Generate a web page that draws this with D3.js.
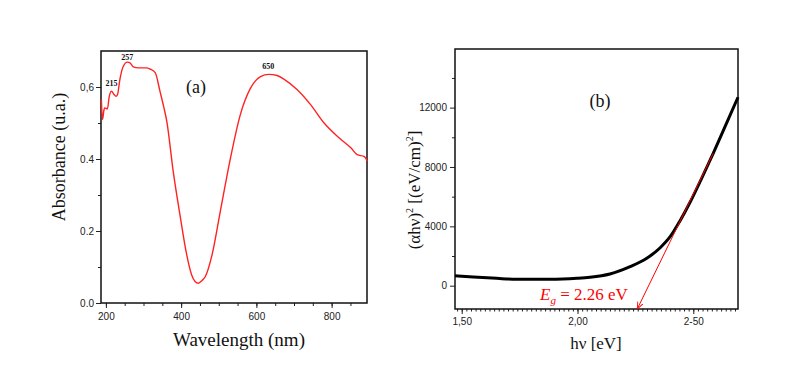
<!DOCTYPE html>
<html>
<head>
<meta charset="utf-8">
<script src="https://cdn.jsdelivr.net/npm/d3@7"></script>
<style>
  body { margin: 0; background: #fff; }
  .tick text { font-family: "Liberation Sans", Arial, sans-serif; font-size: 10px; fill: #222; }
  .tick line { stroke: #222; }
</style>
</head>
<body>
<div id="chart"></div>
<script>
// panel (a) : UV-vis absorbance
const wavelength = [188, 191, 195, 197, 204, 209, 215, 221, 227, 231, 237, 246, 257, 264, 273, 286, 308, 317, 331, 344,
  353, 362, 379, 397, 415, 428, 437, 446, 455, 464, 482, 504, 531, 557, 584, 611, 633, 655, 673,
  708, 744, 780, 815, 851, 868, 886, 895];
const absorbance = [0.565, 0.51, 0.537, 0.542, 0.539, 0.574, 0.588, 0.58, 0.574, 0.579, 0.62, 0.657, 0.669, 0.667, 0.656, 0.653, 0.653, 0.650, 0.640, 0.587,
  0.548, 0.504, 0.365, 0.244, 0.133, 0.078, 0.060, 0.055, 0.062, 0.073, 0.133, 0.254, 0.402, 0.522, 0.596, 0.629, 0.635, 0.632, 0.622,
  0.593, 0.551, 0.50, 0.463, 0.431, 0.412, 0.407, 0.394];
const peakNm = [215, 257, 650];
const peakAbs = [0.588, 0.669, 0.636];
const peakLabels = ["215", "257", "650"];
const aXTicks = [200, 400, 600, 800];
const aYTicks = [0, 0.2, 0.4, 0.6];
const aYTickLabels = ["0.0", "0.2", "0.4", "0,6"];

// panel (b) : Tauc plot
const energy = [1.471, 1.55, 1.651, 1.767, 1.882, 1.997, 2.054, 2.140, 2.227, 2.299, 2.357, 2.400, 2.443, 2.486, 2.536, 2.586, 2.637, 2.693];
const tauc = [674, 584, 494, 427, 427, 494, 566, 789, 1281, 1846, 2560, 3300, 4380, 5620, 7237, 8922, 10714, 12700];
const fitEnergy = [2.258, 2.586];
const fitValue = [-1570, 8922];
const bXTicks = [1.5, 2.0, 2.5];
const bXTickLabels = ["1,50", "2,00", "2-50"];
const bYTicks = [0, 4000, 8000, 12000];

const width = 806, height = 375;
const svg = d3.select("#chart").append("svg")
  .attr("width", width).attr("height", height)
  .style("background", "#fff");

svg.append("defs").append("marker")
  .attr("id", "arrow").attr("viewBox", "0 0 10 10")
  .attr("refX", 10).attr("refY", 5)
  .attr("markerWidth", 7).attr("markerHeight", 7)
  .attr("orient", "auto")
  .append("path").attr("d", "M0,1 L10,5 L0,9").attr("fill", "none").attr("stroke", "red").attr("stroke-width", 1.3);

// ---------- panel (a)
const A = {l: 101, r: 367, t: 51, b: 303};
const xa = d3.scaleLinear().domain([187, 894]).range([A.l, A.r]);
const ya = d3.scaleLinear().domain([0, 0.70]).range([A.b, A.t]);

svg.append("g").attr("transform", `translate(0,${A.b})`)
  .call(d3.axisBottom(xa).tickValues(d3.range(200, 900, 50)).tickSize(3).tickFormat(""))
  .call(g => g.select(".domain").remove());
svg.append("g").attr("transform", `translate(0,${A.b})`)
  .call(d3.axisBottom(xa).tickValues(aXTicks).tickSize(5).tickPadding(5))
  .call(g => g.select(".domain").remove());
svg.append("g").attr("transform", `translate(${A.l},0)`)
  .call(d3.axisLeft(ya).tickValues([0.1, 0.3, 0.5]).tickSize(3).tickFormat(""))
  .call(g => g.select(".domain").remove());
svg.append("g").attr("transform", `translate(${A.l},0)`)
  .call(d3.axisLeft(ya).tickValues(aYTicks).tickSize(5).tickPadding(2).tickFormat((d, i) => aYTickLabels[i]))
  .call(g => g.select(".domain").remove());

svg.append("rect").attr("x", A.l).attr("y", A.t)
  .attr("width", A.r - A.l).attr("height", A.b - A.t)
  .attr("fill", "none").attr("stroke", "#111").attr("stroke-width", 1.5);

svg.append("path")
  .datum(wavelength.map((w, i) => [w, absorbance[i]]))
  .attr("fill", "none").attr("stroke", "#f22").attr("stroke-width", 1.4)
  .attr("d", d3.line().x(d => xa(d[0])).y(d => ya(d[1])).curve(d3.curveMonotoneX));

// small nudges so the labels sit where the original put them
const peakDx = [0, 0, -7];
svg.selectAll(".peak").data(peakNm).enter().append("text")
  .attr("x", (d, i) => xa(d) + peakDx[i])
  .attr("y", (d, i) => ya(peakAbs[i]) - (i === 1 ? 2 : 5))
  .attr("text-anchor", "middle")
  .attr("font-family", "Liberation Serif, serif").attr("font-weight", "bold")
  .attr("font-size", "8px").attr("fill", "#111")
  .text((d, i) => peakLabels[i]);

svg.append("text").attr("x", 196).attr("y", 93)
  .attr("text-anchor", "middle").attr("font-family", "Liberation Serif, serif")
  .attr("font-size", "18px").attr("fill", "#111").text("(a)");

svg.append("text").attr("x", 239).attr("y", 346)
  .attr("text-anchor", "middle").attr("font-family", "Liberation Serif, serif")
  .attr("font-size", "19px").attr("fill", "#111").text("Wavelength (nm)");

svg.append("text").attr("transform", `translate(65,157) rotate(-90)`)
  .attr("text-anchor", "middle").attr("font-family", "Liberation Serif, serif")
  .attr("font-size", "18px").attr("fill", "#111").text("Absorbance (u.a.)");

// ---------- panel (b)
const B = {l: 455, r: 738, t: 49, b: 309};
const xb = d3.scaleLinear().domain([1.471, 2.693]).range([B.l, B.r]);
const yb = d3.scaleLinear().domain([-1570, 15950]).range([B.b, B.t]);

svg.append("g").attr("transform", `translate(0,${B.b})`)
  .call(d3.axisBottom(xb).tickValues(d3.range(1.48, 2.69, 0.02)).tickSize(2.5).tickFormat(""))
  .call(g => g.select(".domain").remove());
svg.append("g").attr("transform", `translate(0,${B.b})`)
  .call(d3.axisBottom(xb).tickValues(bXTicks).tickSize(5).tickPadding(4).tickFormat((d, i) => bXTickLabels[i]))
  .call(g => g.select(".domain").remove());
svg.append("g").attr("transform", `translate(${B.l},0)`)
  .call(d3.axisLeft(yb).tickValues([2000, 6000, 10000, 14000]).tickSize(3).tickFormat(""))
  .call(g => g.select(".domain").remove());
svg.append("g").attr("transform", `translate(${B.l},0)`)
  .call(d3.axisLeft(yb).tickValues(bYTicks).tickSize(5).tickPadding(3).tickFormat(d3.format("d")))
  .call(g => g.select(".domain").remove());

svg.append("rect").attr("x", B.l).attr("y", B.t)
  .attr("width", B.r - B.l).attr("height", B.b - B.t)
  .attr("fill", "none").attr("stroke", "#111").attr("stroke-width", 1.5);

svg.append("path")
  .datum(energy.map((e, i) => [e, tauc[i]]))
  .attr("fill", "none").attr("stroke", "#000").attr("stroke-width", 3)
  .attr("d", d3.line().x(d => xb(d[0])).y(d => yb(d[1])).curve(d3.curveMonotoneX));

svg.append("path")
  .datum(fitEnergy.map((e, i) => [e, fitValue[i]]).reverse())
  .attr("fill", "none").attr("stroke", "red").attr("stroke-width", 1)
  .attr("marker-end", "url(#arrow)")
  .attr("d", d3.line().x(d => xb(d[0])).y(d => yb(d[1])));

const eg = svg.append("text").attr("x", 540).attr("y", 300)
  .attr("font-family", "Liberation Serif, serif").attr("font-size", "17px").attr("fill", "red");
eg.append("tspan").attr("font-style", "italic").text("E");
eg.append("tspan").attr("font-style", "italic").attr("font-size", "11px").attr("dy", 4).text("g");
eg.append("tspan").attr("dy", -4).text(" = 2.26 eV");

svg.append("text").attr("x", 600).attr("y", 107)
  .attr("text-anchor", "middle").attr("font-family", "Liberation Serif, serif")
  .attr("font-size", "18px").attr("fill", "#111").text("(b)");

svg.append("text").attr("x", 596).attr("y", 349)
  .attr("text-anchor", "middle").attr("font-family", "Liberation Serif, serif")
  .attr("font-size", "17px").attr("fill", "#111").text("hν [eV]");

const yl = svg.append("text").attr("transform", `translate(420,190) rotate(-90)`)
  .attr("text-anchor", "middle").attr("font-family", "Liberation Serif, serif")
  .attr("font-size", "17px").attr("fill", "#111");
yl.append("tspan").text("(αhν)");
yl.append("tspan").attr("font-size", "10px").attr("dy", -7).text("2");
yl.append("tspan").attr("dy", 7).text(" [(eV/cm)");
yl.append("tspan").attr("font-size", "10px").attr("dy", -7).text("2");
yl.append("tspan").attr("dy", 7).text("]");
</script>
</body>
</html>
